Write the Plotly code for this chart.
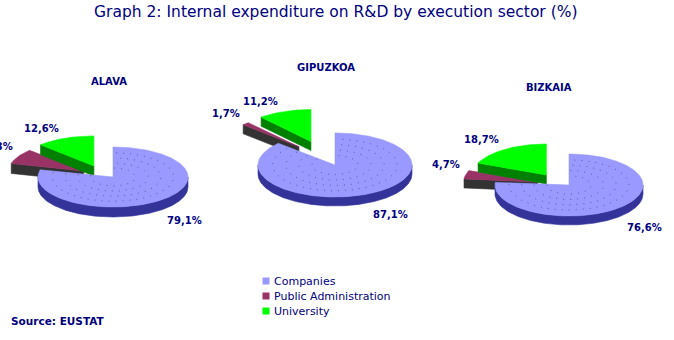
import math
import plotly.graph_objects as go

# ---- data -------------------------------------------------------------
regions = ["ALAVA", "GIPUZKOA", "BIZKAIA"]
sectors = ["Companies", "Public Administration", "University"]
companies = [79.1, 87.1, 76.6]
public_admin = [8.3, 1.7, 4.7]
university = [12.6, 11.2, 18.7]
title_text = "Graph 2: Internal expenditure on R&D by execution sector (%)"
source_text = "Source: EUSTAT"

# ---- style ------------------------------------------------------------
W, H = 674, 340
NAVY = "#000080"
FONT = "DejaVu Sans"
top_colors = ["#9999FF", "#993366", "#00FF00"]
side_colors = ["#333399", "#333333", "#008000"]
texture_color = "#5C5C99"
exploded = [False, True, True]
texture_rings = [0.3, 0.47, 0.64, 0.81]

# canvas geometry of each 3-D pie (pixel space), explode = (A, B, C):
# offset x = A*cos(mid) + B, offset y = -C*sin(mid)
pies = [
    dict(cx=113, cy=177, rx=75, ry=30, depth=10, pull=(21, -11, 12), tx=109, ty=81),
    dict(cx=335, cy=165, rx=77, ry=32, depth=9, pull=(35, -12, 25), tx=326, ty=67),
    dict(cx=569, cy=185, rx=74, ry=31, depth=9, pull=(21, -11, 12), tx=549, ty=87),
]

fig = go.Figure()


def poly(xs, ys, color):
    fig.add_trace(go.Scatter(
        x=xs + [xs[0]], y=ys + [ys[0]], mode="lines", fill="toself",
        fillcolor=color, line=dict(color=color, width=0.6),
        hoverinfo="skip", showlegend=False))


def arc(a1, a2, step=1.0):
    n = max(2, int(math.ceil(abs(a2 - a1) / step)) + 1)
    return [a1 + (a2 - a1) * i / (n - 1) for i in range(n)]


def pct(v):
    return f"{v:.1f}".replace(".", ",") + "%"


annotations = []

for k, p in enumerate(pies):
    vals = [companies[k], public_admin[k], university[k]]
    # clockwise from 12 o'clock
    spans = []
    start = 90.0
    for v in vals:
        sweep = 360.0 * v / 100.0
        spans.append((start - sweep, start))
        start -= sweep

    draw_order = [1, 2, 0]
    for s in draw_order:
        a1, a2 = spans[s]
        mid = math.radians((a1 + a2) / 2)
        if exploded[s]:
            A, B, C = p["pull"]
            ox = A * math.cos(mid) + B
            oy = -C * math.sin(mid)
        else:
            ox = oy = 0.0
        cx, cy = p["cx"] + ox, p["cy"] + oy
        rx, ry, d = p["rx"], p["ry"], p["depth"]

        def pt(t, drop=0.0, f=1.0):
            r = math.radians(t)
            return cx + f * rx * math.cos(r), cy - f * ry * math.sin(r) + drop

        # outer wall on the front half (sin < 0)
        ts = arc(a1, a2, 0.5)
        run = []
        runs = []
        for t in ts:
            if math.sin(math.radians(t)) <= 1e-9:
                run.append(t)
            elif run:
                runs.append(run)
                run = []
        if run:
            runs.append(run)
        for r in runs:
            if len(r) < 2:
                continue
            top = [pt(t) for t in r]
            bot = [pt(t, d) for t in reversed(r)]
            pts = top + bot
            poly([q[0] for q in pts], [q[1] for q in pts], side_colors[s])

        # radial cut faces facing the viewer
        for ang, visible in ((a1, math.cos(math.radians(a1)) > 1e-6),
                             (a2, math.cos(math.radians(a2)) < -1e-6)):
            if visible:
                ex, ey = pt(ang)
                xs = [cx, ex, ex, cx]
                ys = [cy, ey, ey + d, cy + d]
                poly(xs, ys, side_colors[s])

        # top face
        pts = [(cx, cy)] + [pt(t) for t in arc(a1, a2)]
        poly([q[0] for q in pts], [q[1] for q in pts], top_colors[s])

        # dotted shading rings on the main slice
        if not exploded[s]:
            for f in texture_rings:
                ring = [pt(t, 0.0, f) for t in arc(a1 + 4, a2 - 2)]
                fig.add_trace(go.Scatter(
                    x=[q[0] for q in ring], y=[q[1] for q in ring],
                    mode="lines",
                    line=dict(color=texture_color, width=1, dash="1px,6px"),
                    hoverinfo="skip", showlegend=False))

        # value label
        ex, ey = pt(math.degrees(mid))
        if math.cos(mid) >= 0:
            lx, ly, anchor = ex + 6, ey + 20, "left"
        else:
            lx, ly, anchor = ex - 4, ey - 10, "right"
        annotations.append(dict(
            x=lx, y=ly, xref="x", yref="y", text="<b>" + pct(vals[s]) + "</b>",
            showarrow=False, xanchor=anchor, yanchor="middle",
            font=dict(family=FONT, size=10, color=NAVY)))

    annotations.append(dict(
        x=p["tx"], y=p["ty"], xref="x", yref="y",
        text="<b>" + regions[k] + "</b>", showarrow=False,
        xanchor="center", yanchor="middle",
        font=dict(family=FONT, size=10, color=NAVY)))

# legend drawn on the canvas
leg_x, leg_y, leg_gap = 266, 281, 15
fig.add_trace(go.Scatter(
    x=[leg_x] * len(sectors),
    y=[leg_y + i * leg_gap for i in range(len(sectors))],
    mode="markers",
    marker=dict(symbol="square", size=7, color=top_colors, line=dict(width=0)),
    hoverinfo="skip", showlegend=False))
for i, name in enumerate(sectors):
    annotations.append(dict(
        x=leg_x + 6, y=leg_y + i * leg_gap, xref="x", yref="y", text=name,
        showarrow=False, xanchor="left", yanchor="middle",
        font=dict(family=FONT, size=11, color=NAVY)))

annotations.append(dict(
    x=336, y=12, xref="x", yref="y", text=title_text, showarrow=False,
    xanchor="center", yanchor="middle",
    font=dict(family=FONT, size=15.5, color=NAVY)))
annotations.append(dict(
    x=9, y=321, xref="x", yref="y", text="<b>" + source_text + "</b>",
    showarrow=False, xanchor="left", yanchor="middle",
    font=dict(family=FONT, size=10.5, color=NAVY)))

fig.update_layout(
    width=W, height=H, autosize=False,
    margin=dict(l=0, r=0, t=0, b=0),
    paper_bgcolor="white", plot_bgcolor="white",
    xaxis=dict(range=[0, W], visible=False, fixedrange=True),
    yaxis=dict(range=[H, 0], visible=False, fixedrange=True),
    annotations=annotations,
    showlegend=False,
)

fig.write_html("out.html")
